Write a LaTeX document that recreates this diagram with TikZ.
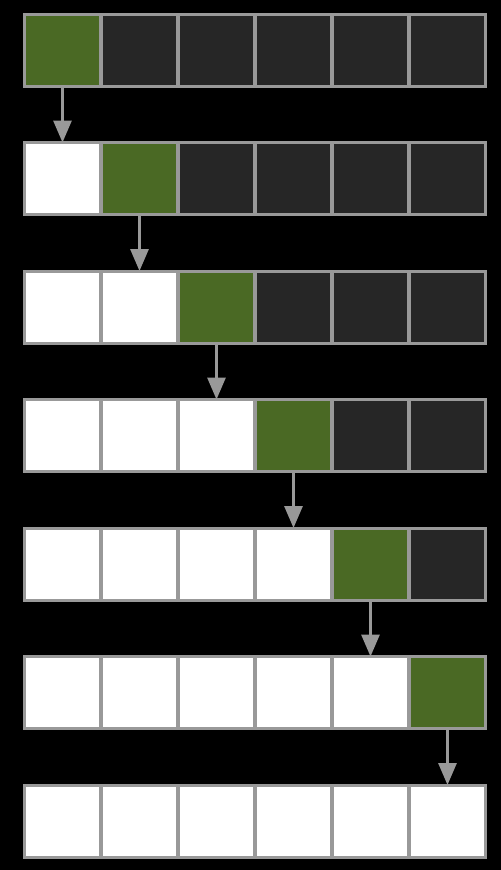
\documentclass[tikz,border=0pt]{standalone}
\usetikzlibrary{arrows.meta}

\definecolor{cellgreen}{HTML}{4A6924}
\definecolor{celldark}{HTML}{262626}
\definecolor{cellline}{HTML}{999999}

\tikzset{
  cell/.style={draw=cellline, line width=0.06cm, minimum width=1.54cm,
    minimum height=1.44cm, inner sep=0pt, outer sep=0pt},
  done/.style={cell, fill=white},
  todo/.style={cell, fill=celldark},
  now/.style={cell, fill=cellgreen},
  step arrow/.style={draw=cellline, line width=0.06cm,
    -{Triangle[width=0.36cm,length=0.44cm]}}
}

\begin{document}
\begin{tikzpicture}[x=0.02cm,y=-0.02cm]
        \fill[black] (0,0) rectangle (501,870);
        \useasboundingbox (0,0) rectangle (501,870);

        % rows of cells
        \foreach \r in {0,...,6} {
          \foreach \c in {0,...,5} {
            \ifnum\c<\r
              \node[done] (c-\r-\c) at ({62.5+77*\c},{50+128.5*\r}) {};
            \else\ifnum\c=\r
              \node[now] (c-\r-\c) at ({62.5+77*\c},{50+128.5*\r}) {};
            \else
              \node[todo] (c-\r-\c) at ({62.5+77*\c},{50+128.5*\r}) {};
            \fi\fi
          }
        }

        % arrows down to the next row
        \foreach \r [evaluate=\r as \n using int(\r+1)] in {0,...,5} {
          \draw[step arrow] (c-\r-\r.south) -- (c-\n-\r.north);
        }
      \end{tikzpicture}
\end{document}
